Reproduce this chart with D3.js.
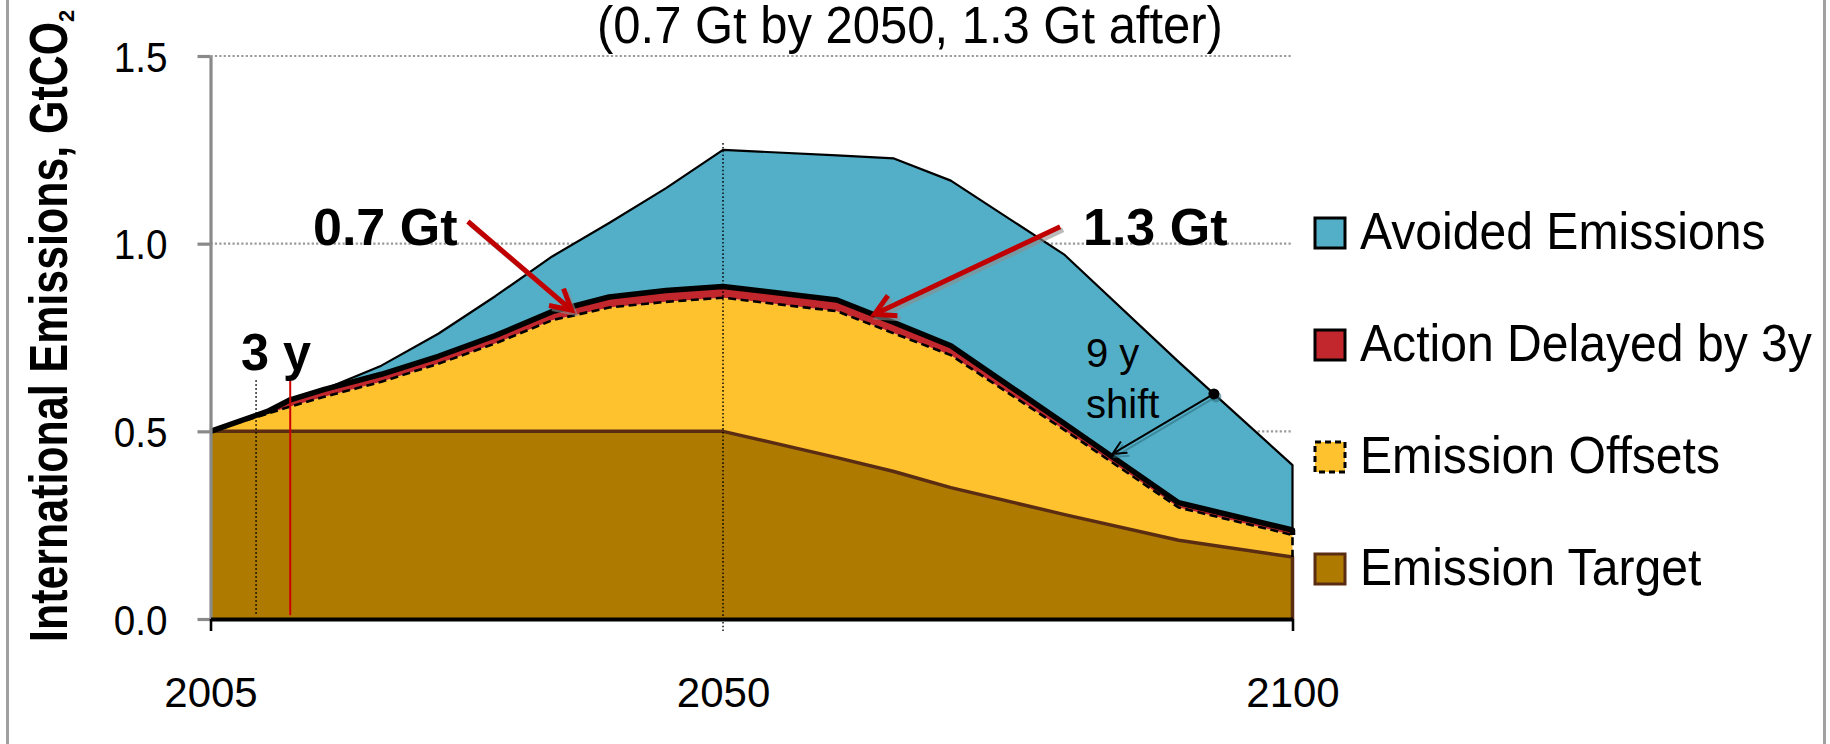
<!DOCTYPE html>
<html>
<head>
<meta charset="utf-8">
<script src="https://cdn.jsdelivr.net/npm/d3@7"></script>
<style>
  html, body { margin: 0; padding: 0; background: #fff; }
  svg { display: block; font-family: "Liberation Sans", Arial, Helvetica, sans-serif; }
</style>
</head>
<body>
<svg id="chart" width="1830" height="744"></svg>
<script>
// ---- data (GtCO2, stacked layers) ----
const years            = [2005, 2010, 2012, 2015, 2020, 2025, 2030, 2035, 2040, 2045, 2050, 2060, 2065, 2070, 2080, 2090, 2100];
const emissionTarget   = [0.5, 0.5, 0.5, 0.5, 0.5, 0.5, 0.5, 0.5, 0.5, 0.5, 0.5, 0.43, 0.393, 0.35, 0.278, 0.21, 0.165];
const emissionOffsets  = [0, 0.047, 0.066, 0.092, 0.132, 0.18, 0.234, 0.296, 0.33, 0.345, 0.356, 0.39, 0.368, 0.353, 0.225, 0.087, 0.059];
const actionDelayed    = [0, 0.006, 0.018, 0.02, 0.02, 0.02, 0.021, 0.023, 0.028, 0.03, 0.03, 0.03, 0.029, 0.025, 0.017, 0.013, 0.013];
const avoidedEmissions = [0, 0, 0, 0, 0.023, 0.06, 0.105, 0.147, 0.197, 0.273, 0.364, 0.385, 0.437, 0.44, 0.45, 0.375, 0.173];

const seriesNames = ["Emission Target", "Emission Offsets", "Action Delayed by 3y", "Avoided Emissions"];
const xTicks = [2005, 2050, 2100];
const yTicks = [0, 0.5, 1.0, 1.5];

const titleText = "(0.7 Gt by 2050, 1.3 Gt after)";
const yTitleText = "International Emissions, GtCO";
const delayStart = 2009, delayEnd = 2012;   // 3-year delay markers

// ---- styling ----
const fills   = ["#AE7B00", "#FFC22F", "#C1272D", "#53AFC7"];
const font = '"Liberation Sans", Arial, Helvetica, sans-serif';

const svg = d3.select("#chart");
const x = d3.scaleLinear().domain([2005, 2100]).range([210.5, 1292.5]);
const y = d3.scaleLinear().domain([0, 1.5]).range([619, 56]);

// horizontally condense a text node to a fraction of its natural width
function squeeze(sel, ratio) {
  sel.each(function () {
    const w = this.getComputedTextLength();
    d3.select(this).attr("textLength", w * ratio).attr("lengthAdjust", "spacingAndGlyphs");
  });
  return sel;
}

const rows = years.map((yr, i) => ({
  year: yr,
  "Emission Target": emissionTarget[i],
  "Emission Offsets": emissionOffsets[i],
  "Action Delayed by 3y": actionDelayed[i],
  "Avoided Emissions": avoidedEmissions[i]
}));
const layers = d3.stack().keys(seriesNames)(rows);

// value of the top of a layer at any year (linear between data years)
function layerTopAt(layer, yr) {
  const i = Math.max(1, d3.bisectLeft(years, yr));
  const a = layer[i - 1], b = layer[i];
  const t = (yr - a.data.year) / (b.data.year - a.data.year);
  return a[1] + t * (b[1] - a[1]);
}

// ---- gridlines ----
svg.append("g").selectAll("line")
  .data(yTicks.filter(v => v > 0))
  .join("line")
  .attr("x1", x(2005)).attr("x2", x(2100))
  .attr("y1", d => y(d)).attr("y2", d => y(d))
  .attr("stroke", "#9a9a9a").attr("stroke-width", 2.2)
  .attr("stroke-dasharray", "2.2,2.2");

// ---- stacked areas ----
const area = d3.area()
  .x(d => x(d.data.year))
  .y0(d => y(d[0]))
  .y1(d => y(d[1]));

svg.append("g").selectAll("path")
  .data(layers)
  .join("path")
  .attr("d", area)
  .attr("fill", (d, i) => fills[i]);

// ---- area borders (top edge plus right edge) ----
function edgePath(layer) {
  const pts = layer.map(d => [x(d.data.year), y(d[1])]);
  const last = layer[layer.length - 1];
  pts.push([x(last.data.year), y(last[0])]);
  return d3.line()(pts);
}
const borderStyles = [
  { stroke: "#5A2D12", width: 3.5, dash: null },
  { stroke: "#000", width: 2.6, dash: "8,4.5" },
  { stroke: "#000", width: 5.5, dash: null },
  { stroke: "#000", width: 2.2, dash: null }
];
svg.append("g").selectAll("path")
  .data(layers)
  .join("path")
  .attr("d", edgePath)
  .attr("fill", "none")
  .attr("stroke", (d, i) => borderStyles[i].stroke)
  .attr("stroke-width", (d, i) => borderStyles[i].width)
  .attr("stroke-dasharray", (d, i) => borderStyles[i].dash)
  .attr("stroke-linejoin", "round");

// ---- reference verticals ----
svg.append("line")
  .attr("x1", x(2050)).attr("x2", x(2050))
  .attr("y1", y(1.268)).attr("y2", y(-0.037))
  .attr("stroke", "#000").attr("stroke-width", 1.4).attr("stroke-dasharray", "1.6,2.2");
svg.append("line")
  .attr("x1", x(delayStart)).attr("x2", x(delayStart))
  .attr("y1", y(0.637)).attr("y2", y(0.01))
  .attr("stroke", "#000").attr("stroke-width", 1.2).attr("stroke-dasharray", "2,2");
svg.append("line")
  .attr("x1", x(delayEnd)).attr("x2", x(delayEnd))
  .attr("y1", y(0.637)).attr("y2", y(0.01))
  .attr("stroke", "#CC0000").attr("stroke-width", 2);

// ---- axes ----
const yAxis = svg.append("g")
  .attr("transform", `translate(${x(2005)},0)`)
  .call(d3.axisLeft(y).tickValues(yTicks).tickFormat(d3.format(".1f"))
    .tickSizeInner(13).tickSizeOuter(0).tickPadding(30));
yAxis.select(".domain").attr("stroke", "#8a8a8a").attr("stroke-width", 3.2);
yAxis.selectAll(".tick line").attr("stroke", "#8a8a8a").attr("stroke-width", 3.2);
yAxis.selectAll(".tick text")
  .attr("font-family", font).attr("font-size", 42).attr("fill", "#000")
  .attr("dy", "0.36em");
squeeze(yAxis.selectAll(".tick text"), 0.92);

const xAxis = svg.append("g")
  .attr("transform", `translate(0,${y(0)})`)
  .call(d3.axisBottom(x).tickValues(xTicks).tickFormat(d3.format("d"))
    .tickSizeInner(12).tickSizeOuter(0).tickPadding(46));
xAxis.select(".domain").attr("stroke", "#000").attr("stroke-width", 4.2);
xAxis.selectAll(".tick line")
  .attr("stroke", "#000")
  .attr("stroke-width", d => d === 2050 ? 0 : 2.6);
xAxis.selectAll(".tick text")
  .attr("font-family", font).attr("font-size", 42).attr("fill", "#000");

// ---- arrows ----
function drawArrow(g, p1, p2, o) {
  const [x1, y1] = p1, [x2, y2] = p2;
  const ang = Math.atan2(y2 - y1, x2 - x1);
  const a1 = [x2 - o.head * Math.cos(ang - o.spread), y2 - o.head * Math.sin(ang - o.spread)];
  const a2 = [x2 - o.head * Math.cos(ang + o.spread), y2 - o.head * Math.sin(ang + o.spread)];
  const d = `M${x1},${y1}L${x2},${y2}M${a1[0]},${a1[1]}L${x2},${y2}L${a2[0]},${a2[1]}`;
  g.append("path").attr("d", d)
    .attr("transform", `translate(${o.sdx},${o.sdy})`)
    .attr("fill", "none").attr("stroke", o.shadow).attr("stroke-width", o.width)
    .attr("stroke-linecap", "butt").attr("stroke-linejoin", "miter").attr("opacity", 0.6);
  g.append("path").attr("d", d)
    .attr("fill", "none").attr("stroke", o.color).attr("stroke-width", o.width)
    .attr("stroke-linecap", "butt").attr("stroke-linejoin", "miter");
}
const ann = svg.append("g");
const redArrow = { head: 23, spread: Math.PI / 6.2, width: 5, color: "#C00000", shadow: "#8c8c8c", sdx: 3, sdy: 3 };
drawArrow(ann, [x(2027.6), y(1.059)], [x(2036.7), y(0.823)], redArrow);
drawArrow(ann, [x(2079.6), y(1.045)], [x(2063.3), y(0.812)], redArrow);

// 9-year shift: from the top edge back to the delayed-action edge
const topLayer = layers[3], delayLayer = layers[2];
const shiftFrom = [x(2093.1), y(layerTopAt(topLayer, 2093.1))];
const shiftTo = [x(2084.2), y(layerTopAt(delayLayer, 2084.2)) - 3];
drawArrow(ann, shiftFrom, shiftTo,
  { head: 15, spread: Math.PI / 7, width: 2, color: "#000", shadow: "#2f6f80", sdx: 2, sdy: 3 });
ann.append("circle").attr("cx", shiftFrom[0] + 2).attr("cy", shiftFrom[1] + 3).attr("r", 5.5).attr("fill", "#2f6f80").attr("opacity", 0.6);
ann.append("circle").attr("cx", shiftFrom[0]).attr("cy", shiftFrom[1]).attr("r", 5.5).attr("fill", "#000");

// ---- labels ----
const title = svg.append("text")
  .attr("x", 597).attr("y", 43)
  .attr("font-family", font).attr("font-size", 51).attr("fill", "#000")
  .text(titleText);
squeeze(title, 0.96);

svg.append("text").attr("x", 313).attr("y", 245)
  .attr("font-family", font).attr("font-size", 52).attr("font-weight", "bold")
  .text("0.7 Gt");
svg.append("text").attr("x", 1083).attr("y", 245)
  .attr("font-family", font).attr("font-size", 52).attr("font-weight", "bold")
  .text("1.3 Gt");
const lbl3 = svg.append("text").attr("x", 241).attr("y", 370)
  .attr("font-family", font).attr("font-size", 52).attr("font-weight", "bold")
  .text("3 y");
squeeze(lbl3, 0.97);
svg.append("text").attr("x", 1086).attr("y", 367)
  .attr("font-family", font).attr("font-size", 40).text("9 y");
svg.append("text").attr("x", 1086).attr("y", 418)
  .attr("font-family", font).attr("font-size", 40).text("shift");

// y-axis title with subscript
const yt = svg.append("g").attr("transform", "translate(67,642) rotate(-90)");
const ytMain = yt.append("text").attr("x", 0).attr("y", 0)
  .attr("font-family", font).attr("font-size", 54).attr("font-weight", "bold")
  .text(yTitleText);
squeeze(ytMain, 0.795);
yt.append("text").attr("x", 620).attr("y", 7)
  .attr("font-family", font).attr("font-size", 22).attr("font-weight", "bold")
  .text("2");

// ---- legend ----
const legendItems = [
  { name: "Avoided Emissions", fill: fills[3], stroke: "#000", dash: null },
  { name: "Action Delayed by 3y", fill: fills[2], stroke: "#000", dash: null },
  { name: "Emission Offsets", fill: fills[1], stroke: "#000", dash: "6,4" },
  { name: "Emission Target", fill: fills[0], stroke: "#5A2D12", dash: null }
];
const legend = svg.append("g").attr("transform", "translate(1315,249)");
const li = legend.selectAll("g").data(legendItems).join("g")
  .attr("transform", (d, i) => `translate(0,${i * 112})`);
li.append("rect")
  .attr("x", 0).attr("y", -31).attr("width", 30).attr("height", 30)
  .attr("fill", d => d.fill).attr("stroke", d => d.stroke)
  .attr("stroke-width", 3).attr("stroke-dasharray", d => d.dash);
const ltext = li.append("text")
  .attr("x", 45).attr("y", 0)
  .attr("font-family", font).attr("font-size", 52).attr("fill", "#000")
  .text(d => d.name);
squeeze(ltext, 0.925);

// ---- frame edges ----
svg.append("line").attr("x1", 7.5).attr("x2", 7.5).attr("y1", 0).attr("y2", 744)
  .attr("stroke", "#a0a0a0").attr("stroke-width", 3);
svg.append("line").attr("x1", 1824.5).attr("x2", 1824.5).attr("y1", 0).attr("y2", 744)
  .attr("stroke", "#a0a0a0").attr("stroke-width", 3);
</script>
</body>
</html>
